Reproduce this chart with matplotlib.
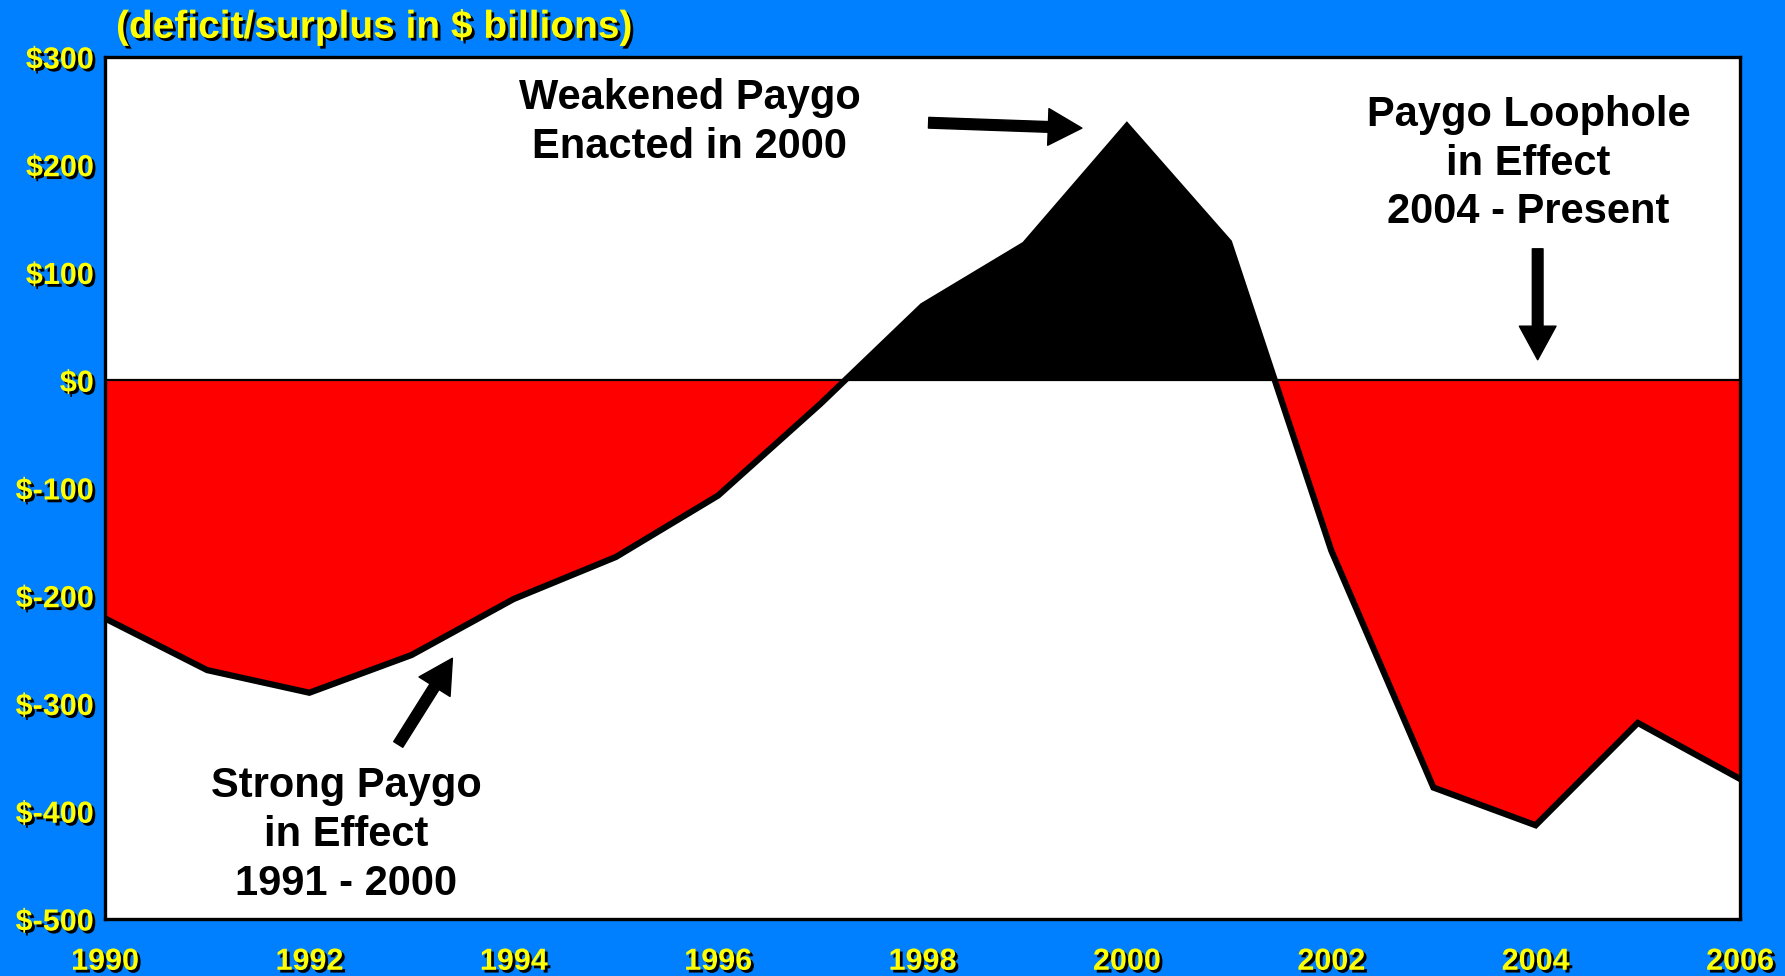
import numpy as np
import matplotlib.pyplot as plt
import matplotlib.patheffects as pe

years = np.arange(1990, 2007)
balance = [-221, -269, -290, -255, -203, -164, -107, -22, 69, 126, 236, 128,
           -158, -378, -413, -318, -370]
y_ticks = [300, 200, 100, 0, -100, -200, -300, -400, -500]
y_labels = ['$%d' % v for v in y_ticks]
x_ticks = list(range(1990, 2007, 2))

BLUE = '#0080ff'
YELLOW = '#ffff00'
shadow = [pe.withSimplePatchShadow(offset=(2, -2), shadow_rgbFace='black', alpha=1.0)]

plt.rcParams['font.family'] = ['Liberation Sans', 'DejaVu Sans']
plt.rcParams['font.weight'] = 'bold'

fig = plt.figure(figsize=(17.85, 9.76), dpi=100, facecolor=BLUE)
ax = fig.add_axes([0.0588, 0.0584, 0.916, 0.8832])
ax.set_facecolor('white')

bal = np.array(balance, dtype=float)
ax.fill_between(years, bal, 0, where=bal >= 0, interpolate=True, color='black', lw=0)
ax.fill_between(years, bal, 0, where=bal <= 0, interpolate=True, color='#ff0000', lw=0)
ax.axhline(0, color='black', lw=1.6, zorder=3)
ax.plot(years, bal, color='black', lw=4.5, solid_joinstyle='miter', zorder=4)

ax.set_xlim(1990, 2006)
ax.set_ylim(-500, 300)
ax.set_yticks(y_ticks)
ax.set_yticklabels(y_labels)
ax.set_xticks(x_ticks)
ax.tick_params(axis='both', length=0, colors=YELLOW, labelsize=22)
ax.tick_params(axis='y', pad=8)
ax.tick_params(axis='x', pad=20)
for lbl in ax.get_xticklabels() + ax.get_yticklabels():
    lbl.set_fontweight('bold')
    lbl.set_path_effects(shadow)
for sp in ax.spines.values():
    sp.set_linewidth(2.4)
    sp.set_color('black')

fig.text(0.065, 0.972, '(deficit/surplus in $ billions)', color=YELLOW, fontsize=28,
         fontweight='bold', ha='left', va='center', path_effects=shadow)

txt_kw = dict(fontsize=30, fontweight='bold', ha='center', va='center', linespacing=1.28,
              color='black', zorder=6)
ax.text(1995.72, 239, 'Weakened Paygo\nEnacted in 2000', **txt_kw)
ax.text(2003.93, 201, 'Paygo Loophole\nin Effect\n2004 - Present', **txt_kw)
ax.text(1992.36, -422, 'Strong Paygo\nin Effect\n1991 - 2000', **txt_kw)

arrow_kw = dict(arrowstyle='simple,head_length=1.1,head_width=1.2,tail_width=0.35',
                fc='black', ec='black', shrinkA=0, shrinkB=0, mutation_scale=22)
ax.annotate('', xy=(1999.56, 234), xytext=(1998.06, 239), arrowprops=arrow_kw, zorder=6)
ax.annotate('', xy=(2004.02, 19), xytext=(2004.02, 122), arrowprops=arrow_kw, zorder=6)
ax.annotate('', xy=(1993.4, -258), xytext=(1992.87, -338), arrowprops=arrow_kw, zorder=6)

fig.savefig('out.png', dpi=100, facecolor=BLUE)
